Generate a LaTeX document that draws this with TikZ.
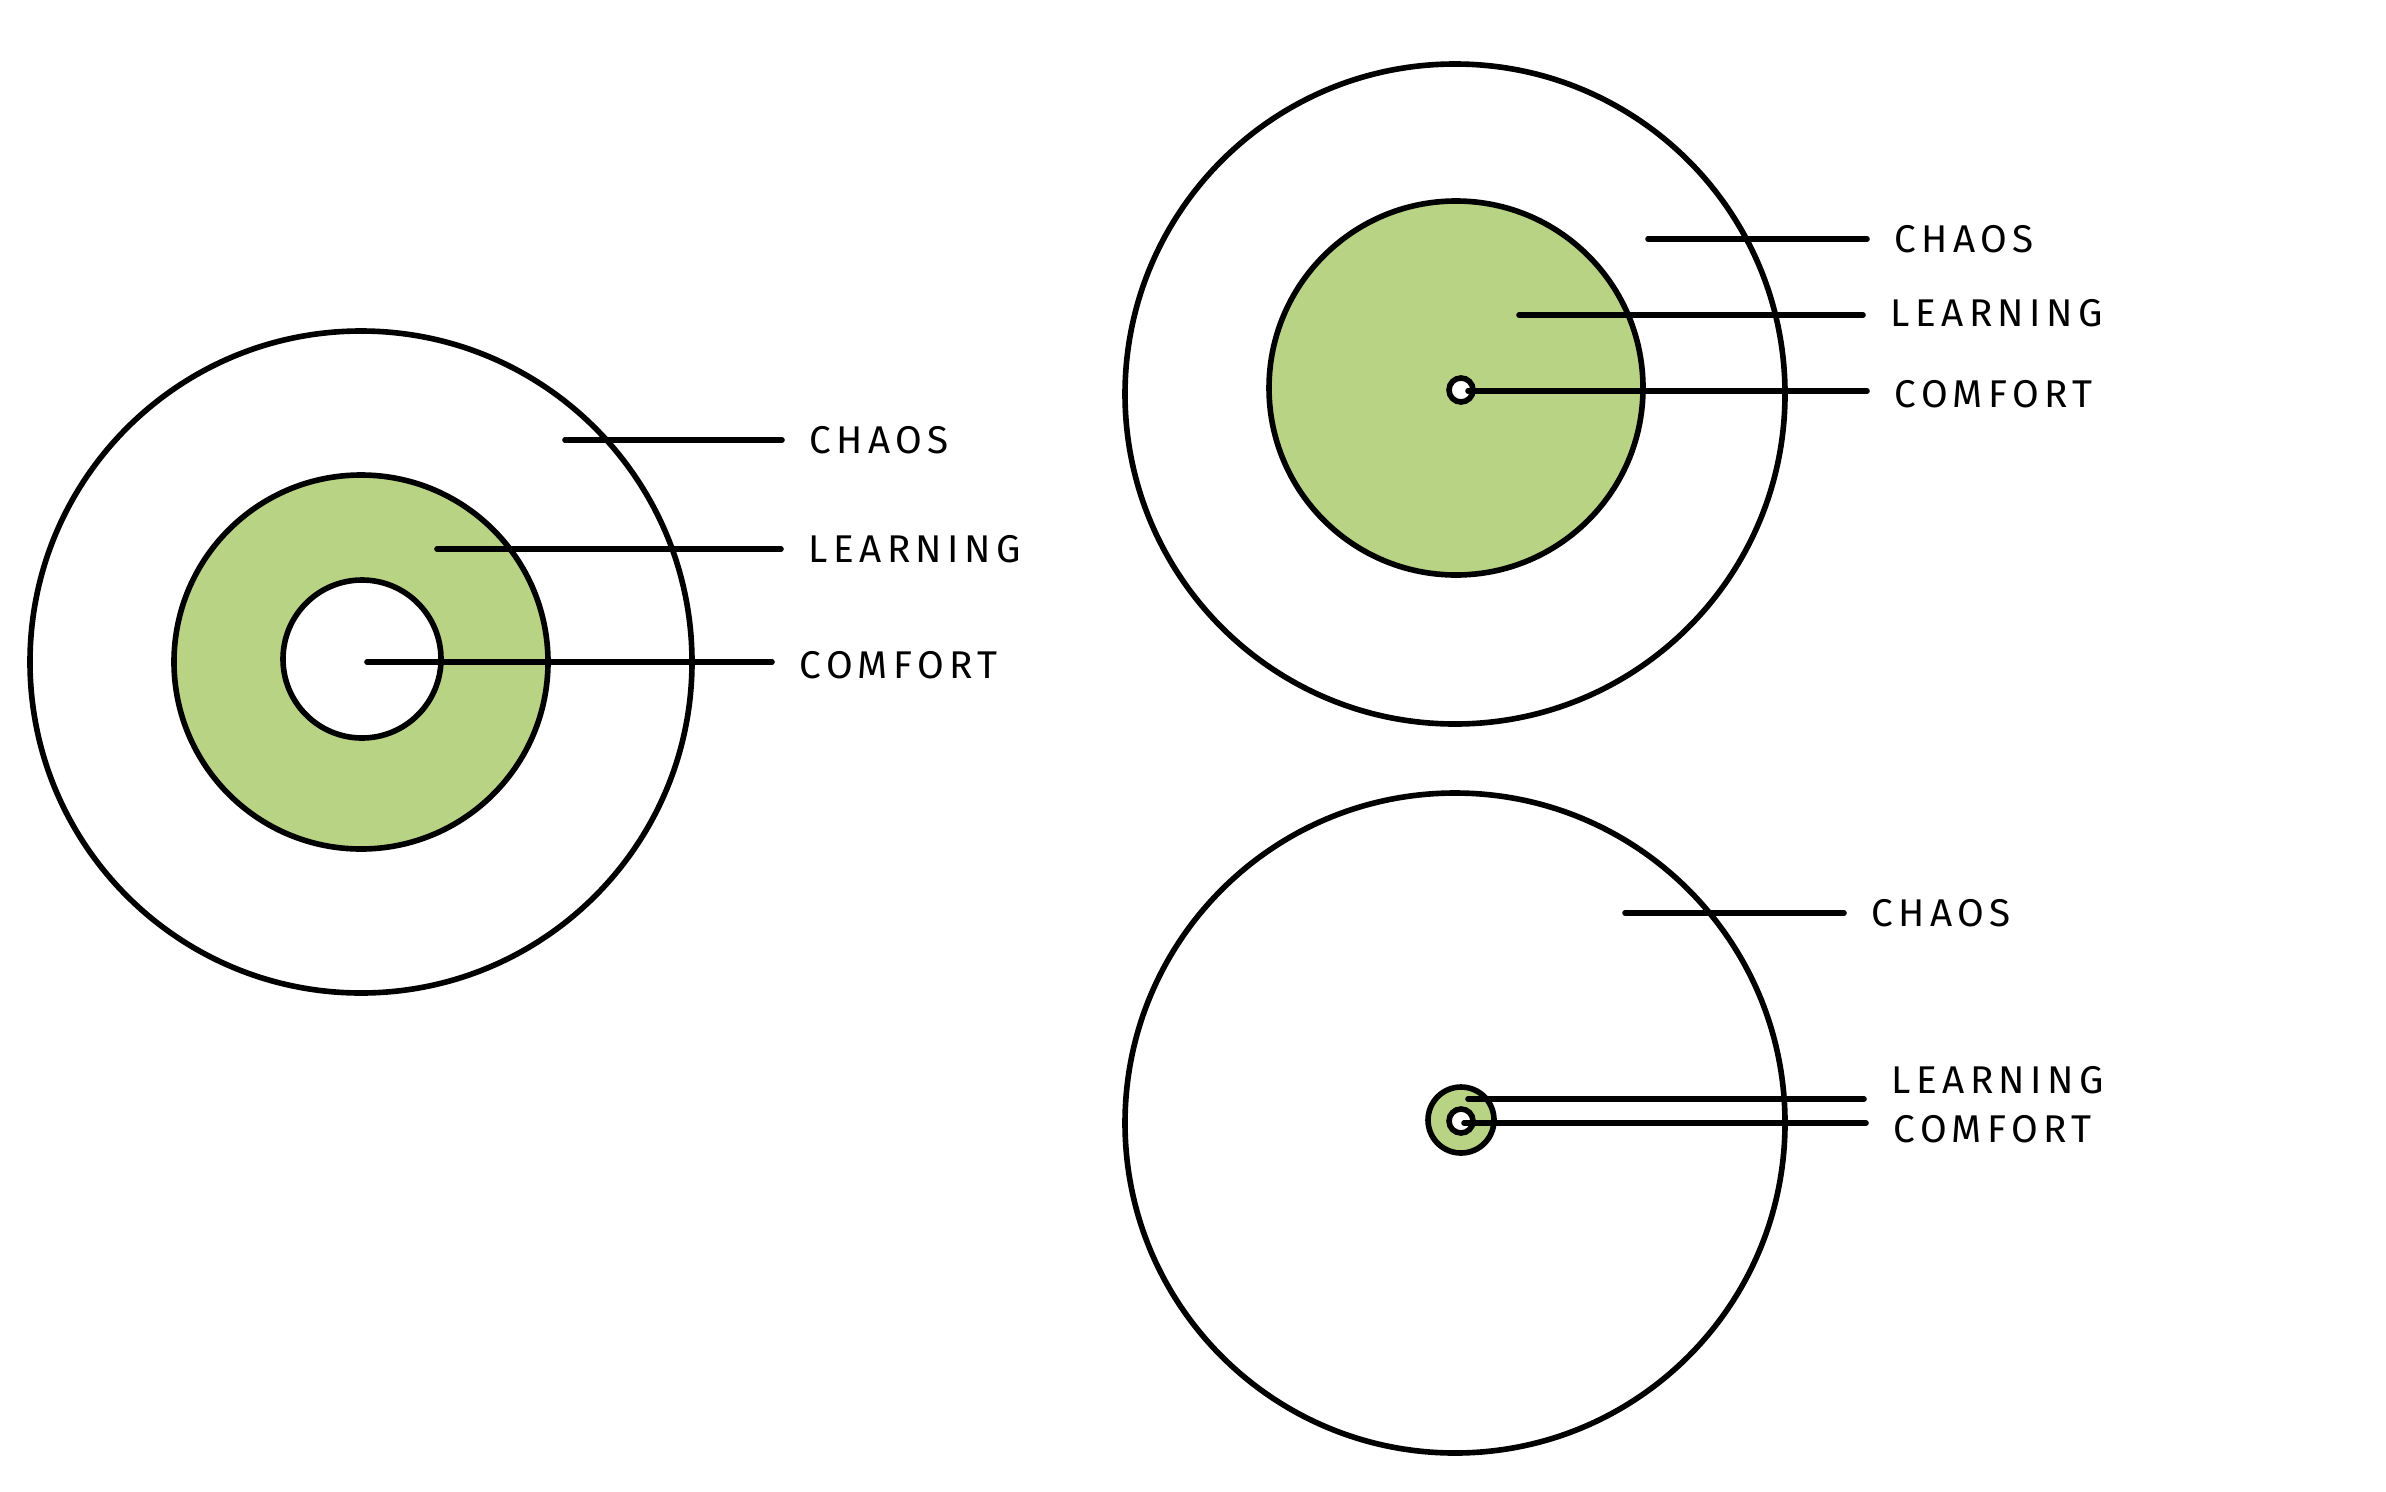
\documentclass[tikz,border=0pt]{standalone}
\usepackage{fontspec}
\setmainfont[LetterSpace=14]{Fira Sans}
\definecolor{zone}{RGB}{184,211,131}
\begin{document}
\begin{tikzpicture}[x=0.1mm,y=-0.1mm,
  ring/.style={circle,draw,line width=1.6pt,inner sep=0pt},
  lbl/.style={anchor=west,inner xsep=2.7mm,inner ysep=0pt,font=\fontsize{11}{13}\selectfont},
  lead/.style={line width=1.6pt,line cap=round}]
\useasboundingbox[fill=white] (0,0) rectangle (2386,1491);
% ---- left diagram
\node[ring,fill=white,minimum size=66.2mm] (A1) at (361,662) {};
\node[ring,fill=zone,minimum size=37.4mm] (A2) at (361,662) {};
\node[ring,fill=white,minimum size=15.8mm] (A3) at (362,659) {};
\coordinate (a1) at (565,440);
\coordinate (a2) at (437,549);
\coordinate (a3) at (367,662);
\node[lbl] (la1) at (782,440) {CHAOS};
\node[lbl] (la2) at (781,549) {LEARNING};
\node[lbl] (la3) at (772,665) {COMFORT};
\draw[lead] (a1) -- (a1 -| la1.west);
\draw[lead] (a2) -- (a2 -| la2.west);
\draw[lead] (a3) -- (a3 -| la3.west);
% ---- top right diagram
\node[ring,fill=white,minimum size=66.0mm] (B1) at (1455,394) {};
\node[ring,fill=zone,minimum size=37.4mm] (B2) at (1456,388) {};
\node[ring,fill=white,minimum size=2.4mm] (B3) at (1461,390) {};
\coordinate (b1) at (1648,239);
\coordinate (b2) at (1519,315);
\coordinate (b3) at (1468,391);
\node[lbl] (lb1) at (1867,239) {CHAOS};
\node[lbl] (lb2) at (1863,313) {LEARNING};
\node[lbl] (lb3) at (1867,394) {COMFORT};
\draw[lead] (b1) -- (b1 -| lb1.west);
\draw[lead] (b2) -- (b2 -| lb2.west);
\draw[lead] (b3) -- (b3 -| lb3.west);
% ---- bottom right diagram
\node[ring,fill=white,minimum size=66.0mm] (C1) at (1455,1123) {};
\node[ring,fill=zone,minimum size=6.6mm] (C2) at (1461,1120) {};
\node[ring,fill=white,minimum size=2.4mm] (C3) at (1461,1121) {};
\coordinate (c1) at (1625,913);
\coordinate (c2) at (1468,1099);
\coordinate (c3) at (1464,1123);
\node[lbl] (lc1) at (1844,913) {CHAOS};
\node[lbl] (lc2) at (1864,1080) {LEARNING};
\node[lbl] (lc3) at (1866,1129) {COMFORT};
\draw[lead] (c1) -- (c1 -| lc1.west);
\draw[lead] (c2) -- (1864,1099);
\draw[lead] (c3) -- (1866,1123);
\end{tikzpicture}
\end{document}
